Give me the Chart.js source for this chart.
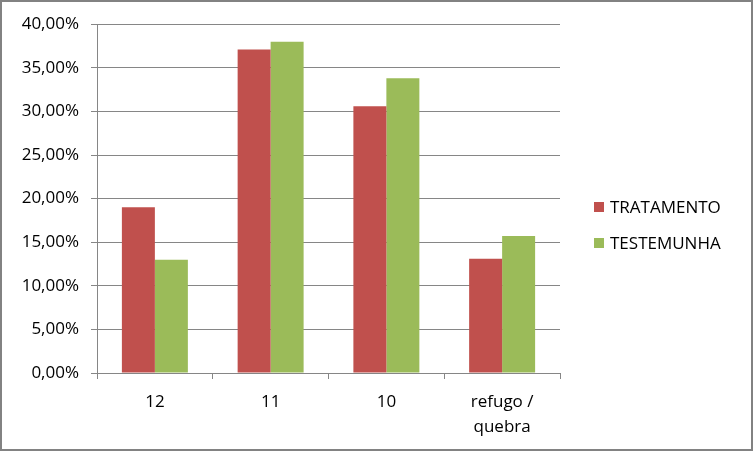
<!DOCTYPE html>
<html>
<head>
<meta charset="utf-8">
<script src="https://cdn.jsdelivr.net/npm/chart.js@4"></script>
<style>
  html, body { margin: 0; padding: 0; background: #fff; }
  #wrap { width: 753px; height: 451px; box-sizing: border-box; border: 2px solid #828282; }
  canvas { display: block; }
</style>
</head>
<body>
<div id="wrap"><canvas id="grafico" width="749" height="447"></canvas></div>
<script>
// categorias e valores (%)
var categorias = ['12', '11', '10', ['refugo /', 'quebra']];
var tratamento = [19.0, 37.1, 30.6, 13.1];
var testemunha = [13.0, 38.0, 33.8, 15.7];
var ticksY = [0, 5, 10, 15, 20, 25, 30, 35, 40];

var fonte = '"Open Sans", "Liberation Sans", sans-serif';
var corGrade = '#868686';

// legenda desenhada à direita
var legendaDireita = {
    id: 'legendaDireita',
    afterDraw: function (chart) {
        var c = chart.ctx;
        c.save();
        c.font = '17px ' + fonte;
        c.textBaseline = 'middle';
        c.textAlign = 'left';
        chart.data.datasets.forEach(function (ds, i) {
            var y = 205 + i * 36;
            c.fillStyle = ds.backgroundColor;
            c.fillRect(592, y - 5, 10, 10);
            c.fillStyle = '#000';
            c.fillText(ds.label, 608, y + 1);
        });
        c.restore();
    }
};

var ctx = document.getElementById('grafico').getContext('2d');
var grafico = new Chart(ctx, {
    type: 'bar',
    data: {
        labels: categorias,
        datasets: [
            { label: 'TRATAMENTO', data: tratamento, backgroundColor: '#C0504D' },
            { label: 'TESTEMUNHA', data: testemunha, backgroundColor: '#9BBB59' }
        ]
    },
    options: {
        responsive: false,
        animation: false,
        layout: { padding: { top: 22, right: 191, bottom: 0, left: 0 } },
        datasets: { bar: { categoryPercentage: 0.57, barPercentage: 1.0 } },
        plugins: {
            legend: { display: false },
            tooltip: { enabled: false }
        },
        scales: {
            x: {
                grid: { display: true, offset: true, drawOnChartArea: false, drawTicks: true, tickLength: 6, color: corGrade },
                border: { display: true, color: corGrade },
                ticks: { color: '#000', font: { family: fonte, size: 17, lineHeight: 1.45 }, padding: 11, maxRotation: 0 },
                afterFit: function (s) { s.height = 76; }
            },
            y: {
                min: 0,
                max: 40,
                afterBuildTicks: function (s) { s.ticks = ticksY.map(function (v) { return { value: v }; }); },
                grid: { color: corGrade, tickLength: 6 },
                border: { display: true, color: corGrade },
                ticks: {
                    color: '#000',
                    font: { family: fonte, size: 17 },
                    padding: 12,
                    callback: function (v) { return v.toFixed(2).replace('.', ',') + '%'; }
                },
                afterFit: function (s) { s.width = 95; }
            }
        }
    },
    plugins: [legendaDireita]
});
</script>
</body>
</html>
